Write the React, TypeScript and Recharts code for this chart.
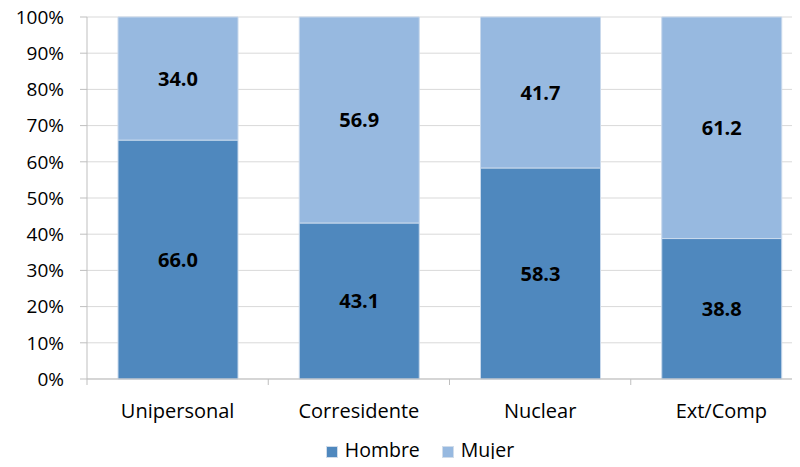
import { BarChart, Bar, XAxis, YAxis, CartesianGrid, Legend, LabelList } from "recharts";

const categories = ["Unipersonal", "Corresidente", "Nuclear", "Ext/Comp"];
const hombre = [66.0, 43.1, 58.3, 38.8];
const mujer = [34.0, 56.9, 41.7, 61.2];
const yTicks = [0, 10, 20, 30, 40, 50, 60, 70, 80, 90, 100];
const series = [
  { key: "Hombre", color: "#4F88BE" },
  { key: "Mujer", color: "#97B9E0" },
];

const data = categories.map((c, i) => ({ name: c, Hombre: hombre[i], Mujer: mujer[i] }));

const FONT = "'Open Sans', sans-serif";
const CHART_W = 812;
const Y_W = 87;
const BAND = (CHART_W - Y_W) / categories.length;

function CatTick(props: any) {
  const { x, y, payload } = props;
  return (
    <g>
      <line x1={x - BAND / 2} x2={x - BAND / 2} y1={y - 8} y2={y - 2} stroke="#BFBFBF" />
      <text x={x} y={y + 31} textAnchor="middle" fill="#000" fontSize={20} fontFamily={FONT}>
        {payload.value}
      </text>
    </g>
  );
}

function LegendBox() {
  return (
    <div style={{ display: "flex", justifyContent: "center", alignItems: "center", gap: 22, fontFamily: FONT, fontSize: 19.5, lineHeight: "20px", color: "#000", height: 20 }}>
      {series.map((s) => (
        <div key={s.key} style={{ display: "flex", alignItems: "center", gap: 7 }}>
          <span style={{ width: 12, height: 12, background: s.color, border: "1px solid #D0DCEA", boxSizing: "border-box", display: "inline-block", marginTop: 3 }} />
          <span>{s.key}</span>
        </div>
      ))}
    </div>
  );
}

const labelProps = { position: "center" as const, formatter: (v: any) => Number(v).toFixed(1), fill: "#000", fontSize: 20, fontWeight: "bold", fontFamily: FONT };

export default function App() {
  return (
    <div style={{ margin: -8, width: 800, height: 467, overflow: "hidden", background: "#fff", position: "relative" }}>
      <BarChart width={CHART_W} height={467} data={data} margin={{ top: 17, right: 0, left: 0, bottom: 0 }} barSize={120}>
        <CartesianGrid vertical={false} stroke="#D9D9D9" />
        <XAxis dataKey="name" axisLine={{ stroke: "#BFBFBF" }} tickLine={false} height={66} tick={<CatTick />} interval={0} />
        <YAxis
          domain={[0, 100]}
          ticks={yTicks}
          width={Y_W}
          tickFormatter={(v) => `${v}%`}
          axisLine={{ stroke: "#BFBFBF" }}
          tickLine={{ stroke: "#BFBFBF" }}
          tickSize={7}
          tickMargin={16}
          tick={{ fill: "#000", fontSize: 19, fontFamily: FONT }}
          interval={0}
        />
        <Legend verticalAlign="bottom" height={22} content={<LegendBox />} wrapperStyle={{ left: 0, width: 840, top: 440 }} />
        {series.map((s) => (
          <Bar key={s.key} dataKey={s.key} stackId="a" fill={s.color} stroke="#C9D9EC" strokeWidth={1} isAnimationActive={false}>
            <LabelList dataKey={s.key} {...labelProps} />
          </Bar>
        ))}
      </BarChart>
    </div>
  );
}
